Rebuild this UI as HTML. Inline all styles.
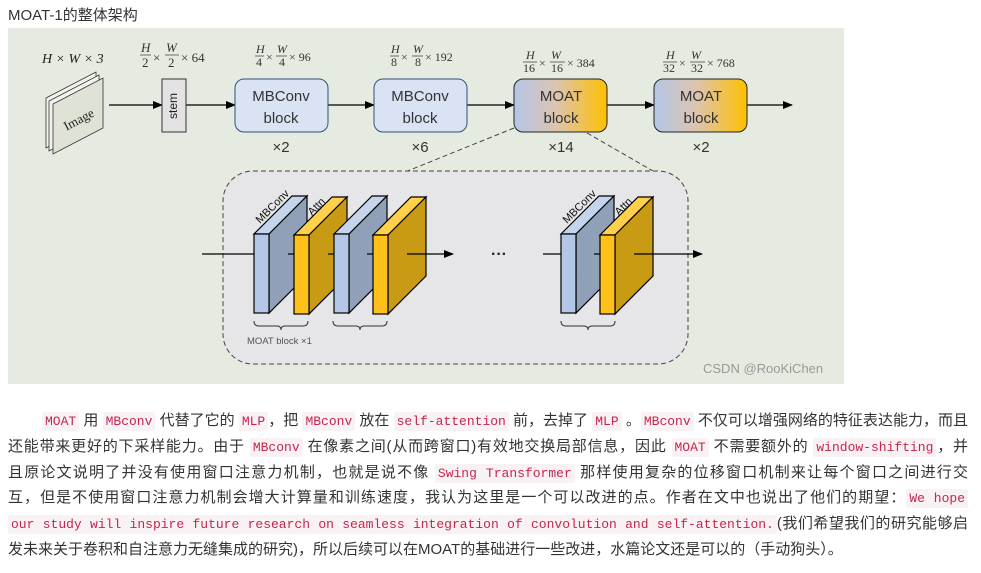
<!DOCTYPE html>
<html><head><meta charset="utf-8">
<style>
body{margin:0;background:#fff;width:981px;height:573px;overflow:hidden;font-family:"Liberation Sans","Noto Sans CJK SC",sans-serif;}
.t{position:absolute;left:8px;top:4px;font-size:15px;color:#333;}
svg{position:absolute;left:0;top:0}
.p{position:absolute;left:8px;top:408px;width:960px;font-size:15px;line-height:25.8px;color:#333;font-family:"Liberation Sans","Noto Sans CJK SC",sans-serif;}
.l{white-space:nowrap;text-align:justify;text-align-last:justify;height:25.8px;}
.l.last{text-align-last:left;}
code{font-family:"Liberation Mono","Noto Sans CJK SC",monospace;font-size:13px;color:#c7254e;background:#f9f2f4;padding:2px 3px;border-radius:2px;}
</style></head><body>
<div class="t">MOAT-1的整体架构</div>
<svg width="981" height="400" viewBox="0 0 981 400">
<defs>
<linearGradient id="g" x1="0" x2="1"><stop offset="0" stop-color="#b4c7e7"/><stop offset="0.45" stop-color="#dcc4b0"/><stop offset="1" stop-color="#ffc000"/></linearGradient>
<marker id="a" markerWidth="10" markerHeight="8" refX="9" refY="4" orient="auto" markerUnits="userSpaceOnUse"><path d="M0,0L10,4L0,8z" fill="#000"/></marker>
</defs>
<rect x="8" y="28" width="836" height="356" fill="#e6ebe1"/>
<g stroke="#333" stroke-width="0.8" fill="#f2f2ee">
<path d="M46,98 L96,72 L96,122 L46,148Z"/>
<path d="M49,101 L99,75 L99,125 L49,151Z"/>
<path d="M53,104 L103,78 L103,128 L53,154Z" fill="#dfe3d6"/>
</g>
<text x="78" y="124" font-family="Liberation Serif" font-size="13" transform="rotate(-28 78 118)" text-anchor="middle" fill="#222">Image</text>
<text x="42" y="63" font-family="Liberation Serif" font-style="italic" font-size="14" fill="#222">H × W × 3</text>
<g font-family="Liberation Serif" fill="#333" font-size="12">
<text x="141" y="52" font-style="italic" font-size="13">H</text><text x="142" y="67" font-size="13">2</text><line x1="140" y1="55" x2="151" y2="55" stroke="#333" stroke-width=".7"/>
<text x="153" y="62" font-size="13">×</text>
<text x="166" y="52" font-style="italic" font-size="13">W</text><text x="168" y="67" font-size="13">2</text><line x1="165" y1="55" x2="179" y2="55" stroke="#333" stroke-width=".7"/>
<text x="181" y="62" font-size="13">× 64</text>
<text x="256" y="53" font-style="italic">H</text><text x="256" y="66">4</text><line x1="255" y1="56" x2="264" y2="56" stroke="#333" stroke-width=".7"/><text x="266" y="61">×</text>
<text x="277" y="53" font-style="italic">W</text><text x="279" y="66">4</text><line x1="276" y1="56" x2="287" y2="56" stroke="#333" stroke-width=".7"/><text x="289" y="61">× 96</text>
<text x="391" y="53" font-style="italic">H</text><text x="391" y="66">8</text><line x1="390" y1="56" x2="399" y2="56" stroke="#333" stroke-width=".7"/><text x="401" y="61">×</text>
<text x="413" y="53" font-style="italic">W</text><text x="415" y="66">8</text><line x1="412" y1="56" x2="423" y2="56" stroke="#333" stroke-width=".7"/><text x="425" y="61">× 192</text>
<text x="526" y="59" font-style="italic">H</text><text x="523" y="72">16</text><line x1="523" y1="62" x2="537" y2="62" stroke="#333" stroke-width=".7"/><text x="539" y="67">×</text>
<text x="551" y="59" font-style="italic">W</text><text x="551" y="72">16</text><line x1="550" y1="62" x2="565" y2="62" stroke="#333" stroke-width=".7"/><text x="567" y="67">× 384</text>
<text x="666" y="59" font-style="italic">H</text><text x="663" y="72">32</text><line x1="663" y1="62" x2="677" y2="62" stroke="#333" stroke-width=".7"/><text x="679" y="67">×</text>
<text x="691" y="59" font-style="italic">W</text><text x="691" y="72">32</text><line x1="690" y1="62" x2="705" y2="62" stroke="#333" stroke-width=".7"/><text x="707" y="67">× 768</text>
</g>
<g stroke="#000" stroke-width="1.3" marker-end="url(#a)">
<line x1="109" y1="105" x2="162" y2="105"/>
<line x1="186" y1="105" x2="235" y2="105"/>
<line x1="328" y1="105" x2="374" y2="105"/>
<line x1="467" y1="105" x2="514" y2="105"/>
<line x1="607" y1="105" x2="654" y2="105"/>
<line x1="747" y1="105" x2="792" y2="105"/>
</g>
<rect x="162" y="79" width="24" height="53" fill="#e3e3e3" stroke="#333"/>
<text x="174" y="106" transform="rotate(-90 174 106)" text-anchor="middle" dominant-baseline="middle" font-size="12" fill="#222">stem</text>
<g stroke="#2f4f7a" stroke-width="1" fill="#dae3f3">
<rect x="235" y="79" width="93" height="53" rx="9"/>
<rect x="374" y="79" width="93" height="53" rx="9"/>
</g>
<rect x="514" y="79" width="93" height="53" rx="9" fill="url(#g)" stroke="#222"/>
<rect x="654" y="79" width="93" height="53" rx="9" fill="url(#g)" stroke="#222"/>
<g font-size="15" fill="#333" text-anchor="middle">
<text x="281" y="101">MBConv</text><text x="281" y="123">block</text>
<text x="420" y="101">MBConv</text><text x="420" y="123">block</text>
<text x="561" y="101">MOAT</text><text x="561" y="123">block</text>
<text x="701" y="101">MOAT</text><text x="701" y="123">block</text>
<text x="281" y="152">×2</text><text x="420" y="152">×6</text><text x="561" y="152">×14</text><text x="701" y="152">×2</text>
</g>
<g stroke="#444" stroke-dasharray="5,3" fill="none" stroke-width="1">
<line x1="514" y1="128" x2="405" y2="172"/>
<line x1="587" y1="133" x2="660" y2="175"/>
<rect x="223" y="171" width="465" height="193" rx="30" fill="#e6e6e8"/>
</g>
<g stroke="#000" stroke-width="1.2">
<line x1="202" y1="254" x2="254" y2="254"/>
<line x1="543" y1="254" x2="561" y2="254"/>
</g>
<g stroke="#000" stroke-width="1.2">
<g id="pb">
<polygon points="254,234 292,196 307,196 269,234" fill="#c5d5ee"/>
<polygon points="269,234 307,196 307,275 269,313" fill="#8fa0b8"/>
<rect x="254" y="234" width="15" height="79" fill="#b4c7e7"/>
</g>
<g id="py">
<polygon points="294,235 332,197 347,197 309,235" fill="#ffd04a"/>
<polygon points="309,235 347,197 347,276 309,314" fill="#c99a14"/>
<rect x="294" y="235" width="15" height="79" fill="#ffc01a"/>
</g>
<use href="#pb" x="80"/><use href="#py" x="79"/>
<use href="#pb" x="307"/><use href="#py" x="306"/>
</g>
<g stroke="#000" stroke-width="1.2">
<line x1="288" y1="254" x2="294" y2="254"/><line x1="328" y1="254" x2="334" y2="254"/><line x1="367" y1="254" x2="373" y2="254"/>
<line x1="594" y1="254" x2="600" y2="254"/>
<line x1="407" y1="254" x2="453" y2="254" marker-end="url(#a)"/>
<line x1="634" y1="254" x2="702" y2="254" marker-end="url(#a)"/>
</g>
<text x="499" y="259" text-anchor="middle" font-size="16" font-weight="bold" fill="#222">···</text>
<g font-size="11" fill="#111">
<text x="260" y="224" transform="rotate(-45 260 224)">MBConv</text>
<text x="312" y="216" transform="rotate(-45 312 216)">Attn</text>
<text x="567" y="224" transform="rotate(-45 567 224)">MBConv</text>
<text x="619" y="216" transform="rotate(-45 619 216)">Attn</text>
</g>
<g stroke="#333" fill="none" stroke-width="1">
<path d="M254,321 q0,5 5,5 h18 q4,0 4,4 q0,-4 4,-4 h18 q5,0 5,-5"/>
<path d="M333,321 q0,5 5,5 h18 q4,0 4,4 q0,-4 4,-4 h18 q5,0 5,-5"/>
<path d="M561,321 q0,5 5,5 h18 q4,0 4,4 q0,-4 4,-4 h18 q5,0 5,-5"/>
</g>
<text x="247" y="344" font-size="9.5" fill="#555">MOAT block ×1</text>
<text x="703" y="373" font-size="13" fill="#999">CSDN @RooKiChen</text>
</svg>
<div class="p">
<div class="l" style="padding-left:34px"><code>MOAT</code> 用 <code>MBconv</code> 代替了它的 <code>MLP</code>，把 <code>MBconv</code> 放在 <code>self-attention</code> 前，去掉了 <code>MLP</code> 。<code>MBconv</code> 不仅可以增强网络的特征表达能力，而且</div>
<div class="l">还能带来更好的下采样能力。由于 <code>MBconv</code> 在像素之间(从而跨窗口)有效地交换局部信息，因此 <code>MOAT</code> 不需要额外的 <code>window-shifting</code>，并</div>
<div class="l">且原论文说明了并没有使用窗口注意力机制，也就是说不像 <code>Swing Transformer</code> 那样使用复杂的位移窗口机制来让每个窗口之间进行交</div>
<div class="l">互，但是不使用窗口注意力机制会增大计算量和训练速度，我认为这里是一个可以改进的点。作者在文中也说出了他们的期望：<code>We hope</code></div>
<div class="l"><code>our study will inspire future research on seamless integration of convolution and self-attention.</code>(我们希望我们的研究能够启</div>
<div class="l last">发未来关于卷积和自注意力无缝集成的研究)，所以后续可以在MOAT的基础进行一些改进，水篇论文还是可以的（手动狗头）。</div>
</div>
</body></html>
